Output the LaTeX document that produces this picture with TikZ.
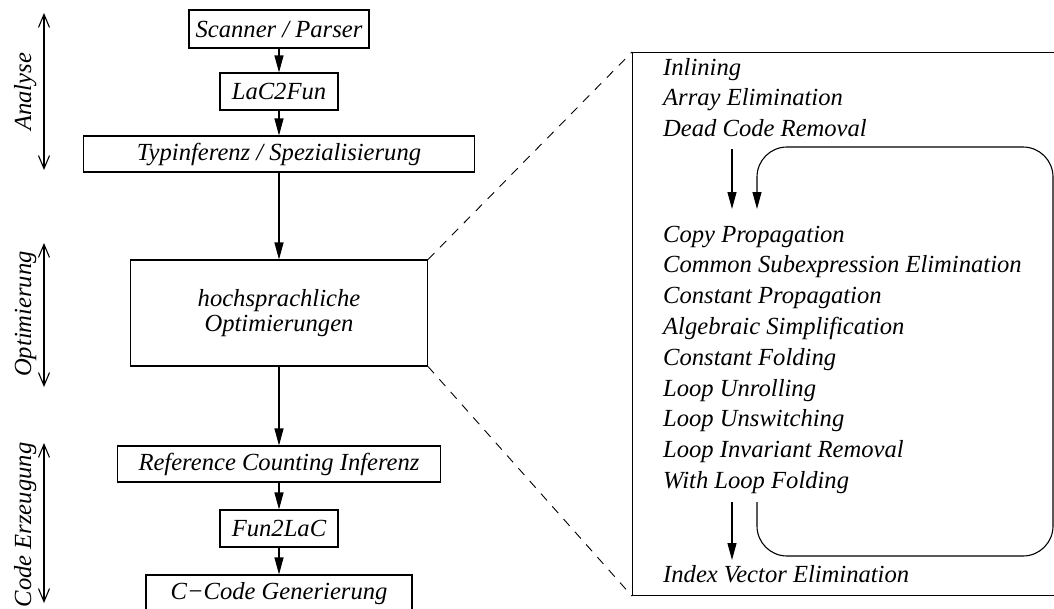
\documentclass[tikz,border=0pt]{standalone}
\usepackage{fontspec}
\setmainfont{Liberation Serif}
\usetikzlibrary{arrows.meta}
\begin{document}
\begin{tikzpicture}[x=1pt,y=-1pt,
  txt/.style={font=\fontsize{24.6pt}{25pt}\selectfont\itshape},
  stage/.style={txt, draw, line width=1.1pt, inner sep=0pt, align=center},
  flow/.style={line width=1.1pt, -{Triangle[length=17pt,width=9pt]}},
  span/.style={line width=1.1pt,
    {Straight Barb[length=13pt,width=11pt]}-{Straight Barb[length=13pt,width=11pt]}},
  zoomline/.style={line width=0.9pt, dash pattern=on 9pt off 8pt},
  pass/.style={txt, anchor=base west, inner sep=0pt},
  phase/.style={txt, rotate=90, anchor=base, inner sep=0pt}]
\useasboundingbox (0,0) rectangle (1054,608);

% compiler stages
\node[stage, minimum width=180pt, minimum height=38pt] (scan) at (279,29) {Scanner / Parser};
\node[stage, minimum width=118pt, minimum height=37pt] (lac) at (279,91.5) {LaC2Fun};
\node[stage, minimum width=391pt, minimum height=36pt] (typ) at (279,154) {Typinferenz / Spezialisierung};
\node[stage, minimum width=297pt, minimum height=106pt] (hoch) at (279,313) {hochsprachliche\\Optimierungen};
\node[stage, minimum width=323pt, minimum height=36pt] (ref) at (279,464) {Reference Counting Inferenz};
\node[stage, minimum width=118pt, minimum height=37pt] (fun) at (279,528.5) {Fun2LaC};
\node[stage, minimum width=266pt, minimum height=37pt] (cgen) at (279,593.5) {C−Code Generierung};

\draw[flow] (scan) -- (lac);
\draw[flow] (lac) -- (typ);
\draw[flow] (typ) -- (hoch);
\draw[flow] (hoch) -- (ref);
\draw[flow] (ref) -- (fun);
\draw[flow] (fun) -- (cgen);

% phases
\node[phase] (ana) at (31,92) {Analyse};
\node[phase] (opt) at (31,314) {Optimierung};
\node[phase] (cod) at (31,525) {Code Erzeugung};
\coordinate (anaT) at (44,13);  \coordinate (anaB) at (44,170);
\coordinate (optT) at (44,243); \coordinate (optB) at (44,387);
\coordinate (codT) at (44,443); \coordinate (codB) at (44,603);
\draw[span] (anaT) -- (anaB);
\draw[span] (optT) -- (optB);
\draw[span] (codT) -- (codB);

% detail of the high-level optimisations
\node[draw, line width=1.1pt, anchor=north west, minimum width=440pt, minimum height=543pt,
      inner sep=0pt] (detail) at (632,52) {};
\draw[zoomline] (hoch.north east) -- (detail.north west);
\draw[zoomline] (hoch.south east) -- (detail.south west);

\node[pass] (p1) at (663,75) {Inlining};
\node[pass] (p2) at (663,105.8) {Array Elimination};
\node[pass] (p3) at (663,136.6) {Dead Code Removal};
\node[pass] (p4) at (663,242) {Copy Propagation};
\node[pass] (p5) at (663,272.8) {Common Subexpression Elimination};
\node[pass] (p6) at (663,303.6) {Constant Propagation};
\node[pass] (p7) at (663,334.4) {Algebraic Simplification};
\node[pass] (p8) at (663,365.2) {Constant Folding};
\node[pass] (p9) at (663,396) {Loop Unrolling};
\node[pass] (p10) at (663,426.8) {Loop Unswitching};
\node[pass] (p11) at (663,457.6) {Loop Invariant Removal};
\node[pass] (p12) at (663,488.4) {With Loop Folding};
\node[pass] (p13) at (663,582) {Index Vector Elimination};

\coordinate (inA) at (732,149); \coordinate (inB) at (732,209);
\coordinate (outA) at (732,502); \coordinate (outB) at (732,560);
\draw[flow] (inA) -- (inB);
\draw[flow] (outA) -- (outB);

% fixpoint loop over the inner passes
\coordinate (loopS) at (757,502);
\coordinate (loopE) at (757,209);
\draw[flow, rounded corners=30pt] (loopS) -- (757,556) -- (1053,556) -- (1053,147)
  -- (757,147) -- (loopE);
\end{tikzpicture}
\end{document}
